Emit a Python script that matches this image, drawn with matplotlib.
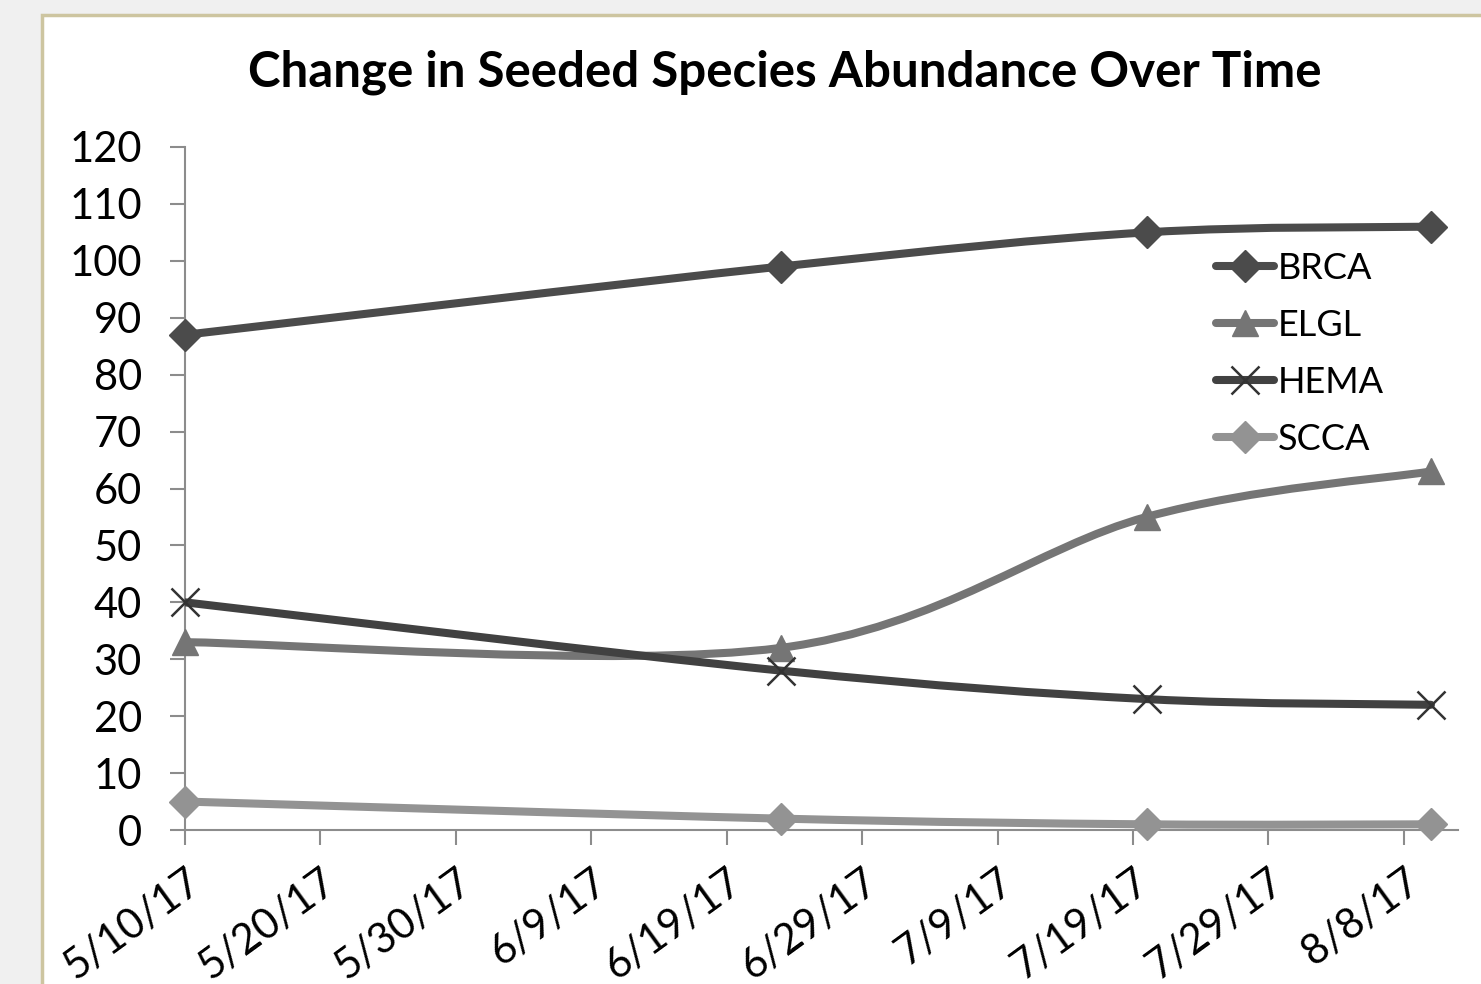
import numpy as np
import matplotlib
matplotlib.use('Agg')
from matplotlib import pyplot as plt
from matplotlib.path import Path
from matplotlib.patches import PathPatch, Rectangle
from matplotlib.lines import Line2D
import matplotlib.dates as mdates
import datetime as dt

plt.rcParams['font.family'] = ['Lato', 'DejaVu Sans']

# 数据
dates = [dt.date(2017, 5, 10), dt.date(2017, 6, 23), dt.date(2017, 7, 20), dt.date(2017, 8, 10)]
brca = [87, 99, 105, 106]
elgl = [33, 32, 55, 63]
hema = [40, 28, 23, 22]
scca = [5, 2, 1, 1]
tick_dates = [dt.date(2017, 5, 10) + dt.timedelta(days=10 * i) for i in range(10)]
tick_labels = ['5/10/17', '5/20/17', '5/30/17', '6/9/17', '6/19/17',
               '6/29/17', '7/9/17', '7/19/17', '7/29/17', '8/8/17']


def smooth_path(x, y):
    # Excel式平滑曲线 (Bezier)
    pts = np.column_stack([x, y]).astype(float)
    n = len(pts)
    verts = [pts[0]]
    codes = [Path.MOVETO]
    for i in range(n - 1):
        p0 = pts[i - 1] if i > 0 else pts[i]
        p1 = pts[i]
        p2 = pts[i + 1]
        p3 = pts[i + 2] if i + 2 < n else pts[i + 1]
        c1 = p1 + (p2 - p0) / 6.0
        c2 = p2 - (p3 - p1) / 6.0
        verts += [c1, c2, p2]
        codes += [Path.CURVE4] * 3
    return Path(verts, codes)


fig = plt.figure(figsize=(14.81, 9.84), dpi=100, facecolor='#f0f0f0')
fig.patches.append(Rectangle((42 / 1481, -0.05), 1.1, 1 - 15 / 984 + 0.05,
                             transform=fig.transFigure, facecolor='white',
                             edgecolor='#cdc5a0', linewidth=2.5, zorder=-10))

ax = fig.add_axes([185 / 1481, 1 - 830 / 984, (1458 - 185) / 1481, (830 - 147) / 984])
ax.set_facecolor('none')
ax.set_zorder(2)

xd = mdates.date2num(dates)
series = [
    ('BRCA', brca, '#4b4b4b', 'D', 16),
    ('ELGL', elgl, '#757575', '^', 19),
    ('HEMA', hema, '#414141', 'x', 20),
    ('SCCA', scca, '#939393', 'D', 16),
]
handles = []
for name, vals, c, m, ms in series:
    ax.add_patch(PathPatch(smooth_path(xd, vals), fill=False, edgecolor=c,
                           linewidth=5.8, capstyle='round', zorder=3))
    if m == 'x':
        ax.plot(xd, vals, linestyle='none', marker='x', markersize=ms,
                markeredgecolor='#333333', markeredgewidth=1.8, zorder=4, clip_on=False)
    else:
        ax.plot(xd, vals, linestyle='none', marker=m, markersize=ms,
                color=c, markeredgecolor=c, zorder=4, clip_on=False)
    h = Line2D([], [], color=c, linewidth=5.8, solid_capstyle='round', marker=m,
               markersize=ms if m != 'x' else 20,
               markeredgecolor='#333333' if m == 'x' else c,
               markeredgewidth=1.8 if m == 'x' else 1)
    handles.append(h)

ax.set_xlim(mdates.date2num(dt.date(2017, 5, 10)), mdates.date2num(dt.date(2017, 8, 12)))
ax.set_ylim(0, 120)
ax.set_yticks(range(0, 121, 10))
ax.set_xticks(mdates.date2num(tick_dates))
ax.set_xticklabels(tick_labels, rotation=36, ha='right', rotation_mode='anchor')

for s in ['top', 'right']:
    ax.spines[s].set_visible(False)
for s in ['left', 'bottom']:
    ax.spines[s].set_color('#8c8c8c')
    ax.spines[s].set_linewidth(1.5)
ax.tick_params(axis='both', direction='out', length=11, width=1.5, color='#8c8c8c',
               labelsize=30)
ax.tick_params(axis='y', pad=20)
ax.tick_params(axis='x', pad=12)

ax.legend(handles, ['BRCA', 'ELGL', 'HEMA', 'SCCA'], loc='upper left',
          bbox_to_anchor=(1216 / 1481, 1 - 252 / 984), bbox_transform=fig.transFigure,
          frameon=False, fontsize=26, handlelength=1.6, handletextpad=0.1,
          labelspacing=0.66, borderpad=0, borderaxespad=0)

fig.text(785 / 1481, 1 - 72 / 984, 'Change in Seeded Species Abundance Over Time',
         ha='center', va='center', fontsize=35.5, fontweight='bold')

plt.savefig('out.png', dpi=100, facecolor=fig.get_facecolor())
